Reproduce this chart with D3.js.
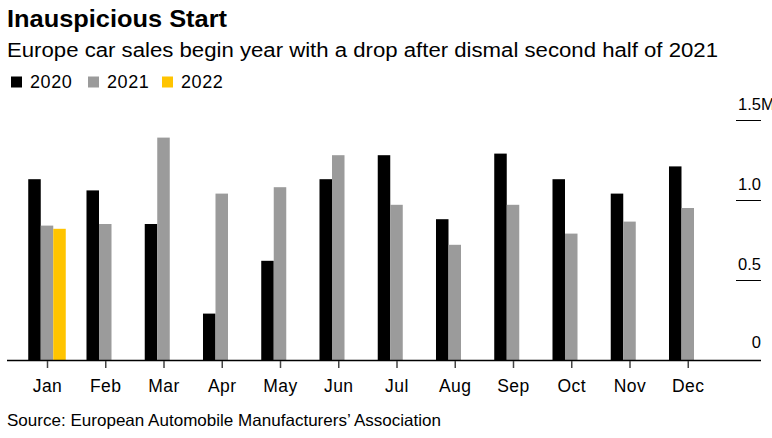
<!DOCTYPE html>
<html>
<head>
<meta charset="utf-8">
<script src="https://cdn.jsdelivr.net/npm/d3@7"></script>
<style>
  html, body { margin: 0; padding: 0; background: #fff; }
  svg { display: block; font-family: "Liberation Sans", Arial, sans-serif; }
</style>
</head>
<body>
<svg id="chart" width="772" height="438"></svg>
<script>
const months = ["Jan","Feb","Mar","Apr","May","Jun","Jul","Aug","Sep","Oct","Nov","Dec"];
const seriesNames = ["2020","2021","2022"];
const sales2020 = [1.13, 1.06, 0.85, 0.29, 0.62, 1.13, 1.28, 0.88, 1.29, 1.13, 1.04, 1.21];
const sales2021 = [0.84, 0.85, 1.39, 1.04, 1.08, 1.28, 0.97, 0.72, 0.97, 0.79, 0.865, 0.95];
const sales2022 = [0.82];
const seriesColors = ["#000000", "#9b9b9b", "#ffc400"];
const yTicks = [0, 0.5, 1.0, 1.5];
const yTickLabels = ["0", "0.5", "1.0", "1.5"];
const yUnit = "M";

const title = "Inauspicious Start";
const subtitle = "Europe car sales begin year with a drop after dismal second half of 2021";
const source = "Source: European Automobile Manufacturers\u2019 Association";

const svg = d3.select("#chart");

svg.append("text").attr("x", 7).attr("y", 27)
  .attr("font-size", 24).attr("font-weight", "bold").attr("fill", "#000")
  .attr("textLength", 220).attr("lengthAdjust", "spacingAndGlyphs").text(title);
svg.append("text").attr("x", 7).attr("y", 57)
  .attr("font-size", 20).attr("fill", "#000")
  .attr("textLength", 711).attr("lengthAdjust", "spacingAndGlyphs").text(subtitle);

// legend
const legend = svg.append("g");
const legendX = [11, 88, 162];
seriesNames.forEach((name, i) => {
  legend.append("rect").attr("x", legendX[i]).attr("y", 76.5).attr("width", 11).attr("height", 11)
    .attr("fill", seriesColors[i]);
  legend.append("text").attr("x", legendX[i] + 19).attr("y", 87.5)
    .attr("font-size", 18).attr("letter-spacing", 0.6).attr("fill", "#000").text(name);
});

const step = 58.25;
const x = d3.scaleBand().domain(months)
  .range([47 - step / 2, 47 - step / 2 + step * months.length])
  .paddingInner(0.356).paddingOuter(0.178);
const xInner = d3.scaleBand().domain(seriesNames).range([0, x.bandwidth()]);
const y = d3.scaleLinear().domain([0, 1.5]).range([360, 120]);

const data = [sales2020, sales2021, sales2022];
const barsG = svg.append("g");
data.forEach((vals, si) => {
  barsG.selectAll(null).data(vals.map((v, mi) => ({ m: months[mi], v })))
    .enter().append("rect")
    .attr("x", d => x(d.m) + xInner(seriesNames[si]))
    .attr("width", xInner.bandwidth())
    .attr("y", d => y(d.v))
    .attr("height", d => y(0) - y(d.v))
    .attr("fill", seriesColors[si]);
});

// y axis on the right
const yAxis = d3.axisRight(y).tickValues(yTicks.slice(1)).tickSize(25)
  .tickFormat((d) => yTickLabels[yTicks.indexOf(d)]);
const yg = svg.append("g").attr("transform", "translate(736,0)").call(yAxis);
yg.select(".domain").remove();
yg.selectAll(".tick line").attr("stroke", "#000").attr("stroke-width", 1);
yg.selectAll(".tick text").attr("x", 25).attr("dy", -10.5).attr("text-anchor", "end")
  .attr("font-size", 16.5).attr("font-family", "Liberation Sans, Arial, sans-serif").attr("fill", "#000");
// unit suffix on the top label (clipped by the frame edge as in the original)
const topTick = yTicks[yTicks.length - 1];
yg.append("text").attr("x", 25).attr("y", y(topTick) - 10.5)
  .attr("font-size", 16.5).attr("fill", "#000").attr("text-anchor", "start").text(yUnit);
// zero label
yg.append("text").attr("x", 25).attr("y", y(0) - 12)
  .attr("font-size", 16.5).attr("fill", "#000").attr("text-anchor", "end").text(yTickLabels[0]);

// baseline
svg.append("line").attr("x1", 7).attr("x2", 761).attr("y1", y(0) + 0.5).attr("y2", y(0) + 0.5)
  .attr("stroke", "#000").attr("stroke-width", 1.5);

// x axis
const xAxis = d3.axisBottom(d3.scalePoint().domain(months).range([x(months[0]) + x.bandwidth() / 2, x(months[11]) + x.bandwidth() / 2]))
  .tickSize(7).tickPadding(10);
const xg = svg.append("g").attr("transform", `translate(0,${y(0) + 1})`).call(xAxis);
xg.select(".domain").remove();
xg.selectAll(".tick line").attr("stroke", "#444").attr("stroke-width", 1.5);
xg.selectAll(".tick text").attr("font-size", 17.5).attr("letter-spacing", 0.5).attr("fill", "#000")
  .attr("font-family", "Liberation Sans, Arial, sans-serif").attr("dy", 0).attr("y", 31);

svg.append("text").attr("x", 7).attr("y", 426)
  .attr("font-size", 16.5).attr("fill", "#000")
  .attr("textLength", 434).attr("lengthAdjust", "spacingAndGlyphs").text(source);
</script>
</body>
</html>
